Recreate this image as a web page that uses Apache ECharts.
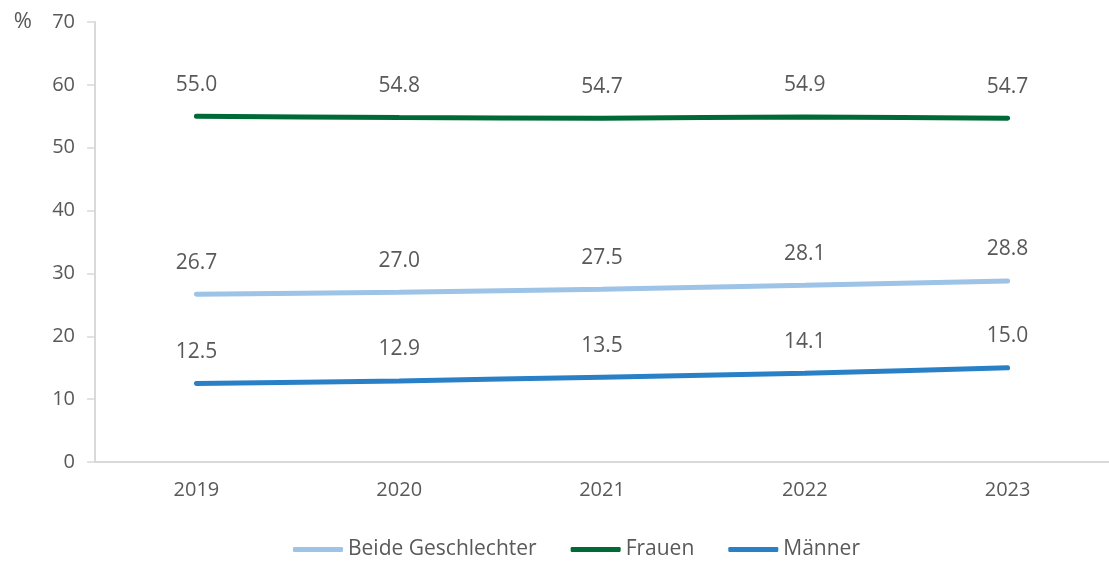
<!DOCTYPE html>
<html>
<head>
<meta charset="utf-8">
<script src="https://cdn.jsdelivr.net/npm/echarts@6/dist/echarts.min.js"></script>
<style>
  html, body { margin: 0; padding: 0; background: #fff; }
  #chart { width: 1109px; height: 562px; }
</style>
</head>
<body>
<div id="chart"></div>
<script>
// Daten
var jahre = ["2019", "2020", "2021", "2022", "2023"];
var beide = [26.7, 27.0, 27.5, 28.1, 28.8];
var frauen = [55.0, 54.8, 54.7, 54.9, 54.7];
var maenner = [12.5, 12.9, 13.5, 14.1, 15.0];
var yTicks = [0, 10, 20, 30, 40, 50, 60, 70];

var textColor = "#595959";
var font = "'Open Sans', 'Noto Sans', sans-serif";

var chart = echarts.init(document.getElementById("chart"));

function serie(name, data, color) {
  return {
    name: name,
    type: "line",
    data: data,
    smooth: 0.2,
    symbol: "circle",
    symbolSize: 0,
    lineStyle: { width: 5, color: color, cap: "round" },
    itemStyle: { color: color },
    label: {
      show: true,
      position: "top",
      distance: 21,
      color: textColor,
      fontSize: 21,
      fontFamily: font,
      formatter: function (p) { return p.value.toFixed(1); }
    }
  };
}

var option = {
  animation: false,
  grid: { left: 95, right: 0, top: 22, bottom: 100 },
  legend: {
    bottom: -3,
    left: 288,
    itemWidth: 50,
    itemHeight: 5,
    itemGap: 34,
    icon: "roundRect",
    textStyle: { color: textColor, fontSize: 21, fontFamily: font, padding: [0, 0, 0, 0] },
    data: ["Beide Geschlechter", "Frauen", "Männer"]
  },
  xAxis: {
    type: "category",
    data: jahre,
    axisLine: { lineStyle: { color: "#d9d9d9", width: 2 } },
    axisTick: { show: false },
    axisLabel: { color: textColor, fontSize: 20, fontFamily: font, margin: 18 }
  },
  yAxis: {
    type: "value",
    min: yTicks[0],
    max: yTicks[yTicks.length - 1],
    interval: 10,
    name: "%",
    nameLocation: "end",
    nameGap: 0,
    nameTextStyle: { color: textColor, fontSize: 22, fontFamily: font, align: "right", padding: [0, 63, 0, 0], verticalAlign: "middle" },
    axisLine: { show: true, lineStyle: { color: "#d9d9d9", width: 2 } },
    axisTick: { show: true, length: 8, lineStyle: { color: "#d9d9d9", width: 1.5 } },
    splitLine: { show: false },
    axisLabel: { color: textColor, fontSize: 20, fontFamily: font, margin: 20 }
  },
  series: [
    serie("Beide Geschlechter", beide, "#9dc3e6"),
    serie("Frauen", frauen, "#006a36"),
    serie("Männer", maenner, "#2a80c6")
  ]
};

chart.setOption(option);
</script>
</body>
</html>
